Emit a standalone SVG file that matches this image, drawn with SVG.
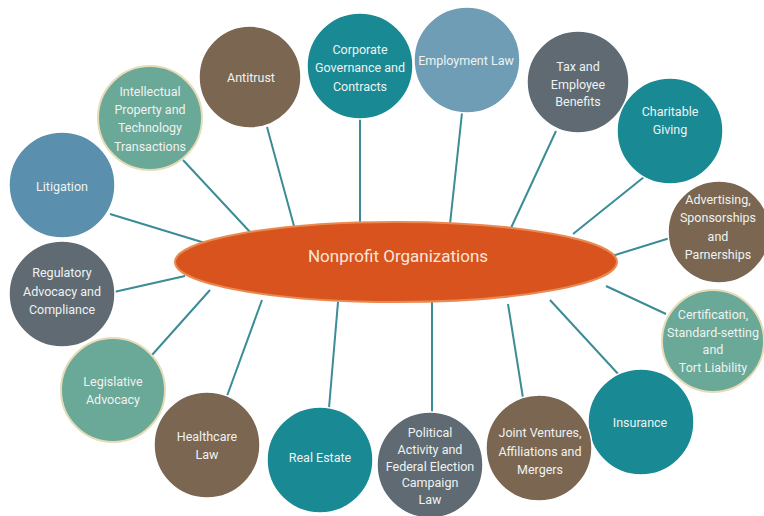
<svg xmlns="http://www.w3.org/2000/svg" width="764" height="516" viewBox="0 0 764 516">
<style>
text{font-family:"Liberation Sans Narrow","Roboto","Liberation Sans",sans-serif;font-size:12.5px;fill:#eef3f2;text-anchor:middle}
.c{stroke:#ffffff;stroke-width:1.5}
.brown{fill:#7a6651}
.teal{fill:#198994}
.gray{fill:#5f6a72}
.blue{fill:#5b8fae}
.lblue{fill:#6f9db6}
.green{fill:#6aa897;stroke:#e6dcb8;stroke-width:2}
.ln{stroke:#3b8c96;stroke-width:2;fill:none}
</style>
<rect width="764" height="516" fill="#ffffff"/>
<g id="connectors">
<line class="ln" x1="110" y1="214" x2="205" y2="243"/>
<line class="ln" x1="183" y1="160" x2="250" y2="232"/>
<line class="ln" x1="267" y1="127" x2="294" y2="226"/>
<line class="ln" x1="360" y1="118" x2="360" y2="224"/>
<line class="ln" x1="462" y1="113" x2="450" y2="224"/>
<line class="ln" x1="556" y1="131" x2="511" y2="228"/>
<line class="ln" x1="644" y1="177" x2="573" y2="234"/>
<line class="ln" x1="670" y1="238" x2="612" y2="256"/>
<line class="ln" x1="666" y1="314" x2="606" y2="286"/>
<line class="ln" x1="620" y1="376" x2="550" y2="300"/>
<line class="ln" x1="523" y1="398" x2="508" y2="304"/>
<line class="ln" x1="432" y1="413" x2="432" y2="302"/>
<line class="ln" x1="329" y1="408" x2="338" y2="302"/>
<line class="ln" x1="227" y1="396" x2="262" y2="300"/>
<line class="ln" x1="152" y1="355" x2="210" y2="290"/>
<line class="ln" x1="114" y1="292" x2="185" y2="276"/>
</g>
<g id="center">
<ellipse cx="396" cy="262" rx="221" ry="40" fill="#d9531f" stroke="#e98a52" stroke-width="2"/>
<text x="398" y="262" style="font-size:17px;fill:#f7e6da">Nonprofit Organizations</text>
</g>
<g id="antitrust"><circle class="c brown" cx="250" cy="77" r="51"/><text x="251" y="82">Antitrust</text></g>
<g id="ip"><circle class="green" cx="150" cy="118" r="52"/><text x="150" y="96">Intellectual</text><text x="150" y="114">Property and</text><text x="150" y="132">Technology</text><text x="150" y="151">Transactions</text></g>
<g id="litigation"><circle class="c blue" cx="62" cy="185" r="53"/><text x="62" y="191">Litigation</text></g>
<g id="corporate"><circle class="c teal" cx="360" cy="66" r="53"/><text x="360" y="54">Corporate</text><text x="360" y="72">Governance and</text><text x="360" y="91">Contracts</text></g>
<g id="employment"><circle class="c lblue" cx="467" cy="60" r="53"/><text x="466" y="65">Employment Law</text></g>
<g id="tax"><circle class="c gray" cx="578" cy="82" r="51"/><text x="578" y="71">Tax and</text><text x="578" y="89">Employee</text><text x="578" y="106">Benefits</text></g>
<g id="charitable"><circle class="c teal" cx="670" cy="131" r="53"/><text x="670" y="116">Charitable</text><text x="670" y="134">Giving</text></g>
<g id="advertising"><circle class="c brown" cx="719" cy="232" r="51"/><text x="718" y="204">Advertising,</text><text x="718" y="222">Sponsorships</text><text x="718" y="241">and</text><text x="718" y="259">Parnerships</text></g>
<g id="certification"><circle class="green" cx="713" cy="341" r="51"/><text x="713" y="319">Certification,</text><text x="713" y="337">Standard-setting</text><text x="713" y="354">and</text><text x="713" y="372">Tort Liability</text></g>
<g id="insurance"><circle class="c teal" cx="641" cy="422" r="53"/><text x="640" y="427">Insurance</text></g>
<g id="jointventures"><circle class="c brown" cx="539" cy="448" r="53"/><text x="540" y="437">Joint Ventures,</text><text x="540" y="456">Affiliations and</text><text x="540" y="474">Mergers</text></g>
<g id="political"><circle class="c gray" cx="430" cy="465" r="53"/><text x="430" y="437">Political</text><text x="430" y="454">Activity and</text><text x="430" y="471">Federal Election</text><text x="430" y="487">Campaign</text><text x="430" y="504">Law</text></g>
<g id="realestate"><circle class="c teal" cx="320" cy="460" r="53"/><text x="320" y="462">Real Estate</text></g>
<g id="healthcare"><circle class="c brown" cx="207" cy="445" r="53"/><text x="207" y="441">Healthcare</text><text x="207" y="459">Law</text></g>
<g id="legislative"><circle class="green" cx="113" cy="390" r="52"/><text x="113" y="386">Legislative</text><text x="113" y="404">Advocacy</text></g>
<g id="regulatory"><circle class="c gray" cx="62" cy="294" r="53"/><text x="62" y="277">Regulatory</text><text x="62" y="296">Advocacy and</text><text x="62" y="314">Compliance</text></g>
</svg>
